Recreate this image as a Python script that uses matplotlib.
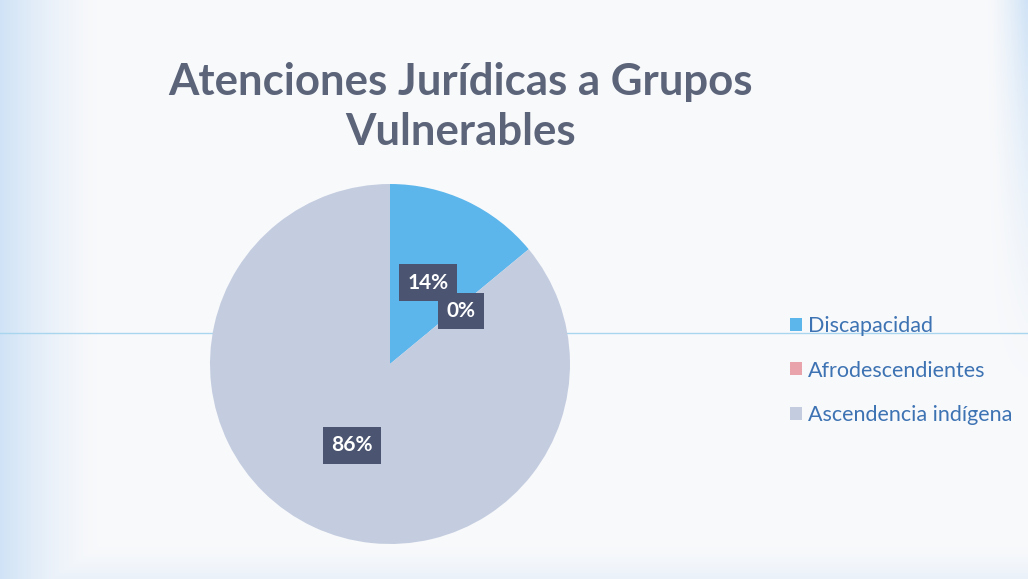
import numpy as np
import matplotlib
matplotlib.use("Agg")
import matplotlib.pyplot as plt
from matplotlib.patches import Patch

title = "Atenciones Jurídicas a Grupos\nVulnerables"
categories = ["Discapacidad", "Afrodescendientes", "Ascendencia indígena"]
values = [14, 0, 86]
colors = ["#5cb6ec", "#e9a3ab", "#c4cde0"]

plt.rcParams['font.family'] = ['Lato', 'DejaVu Sans']

fig = plt.figure(figsize=(10.28, 5.79), dpi=100)
fig.patch.set_facecolor("#f6f8fb")

# subtle scanned background: bluish tint mostly along the left edge and corners
bg = fig.add_axes([0, 0, 1, 1], zorder=-10)
xx = np.linspace(0, 1, 300)
yy = np.linspace(0, 1, 200)
X, Y = np.meshgrid(xx, yy)
left = np.clip(1 - X / 0.10, 0, 1)
right = np.clip(1 - (1 - X) / 0.04, 0, 1) * np.clip((Y - 0.3) / 0.7, 0, 1)
bottom = np.clip(1 - Y / 0.06, 0, 1) * 0.5
edge = np.clip(np.maximum(np.maximum(left, right), bottom), 0, 1) ** 1.5
img = np.ones((200, 300, 3))
base = np.array([0.975, 0.978, 0.985])
tint = np.array([0.78, 0.87, 0.96])
for c in range(3):
    img[..., c] = base[c] * (1 - edge * 0.8) + tint[c] * edge * 0.8
bg.imshow(img, extent=[0, 1, 0, 1], aspect='auto', origin='lower')
bg.axhline(1 - 333 / 579, color="#a9d6ee", lw=1)
bg.set_xlim(0, 1)
bg.set_ylim(0, 1)
bg.set_axis_off()

fig.text(0.448, 0.815, title, ha='center', va='center', fontsize=31.5,
         fontweight='bold', color='#5b6479', linespacing=1.3)

ax = fig.add_axes([210 / 1028, (579 - 544) / 579, 360 / 1028, 360 / 579])
wedges, texts, autotexts = ax.pie(values, colors=colors, startangle=90, counterclock=False,
                                  radius=1, autopct='%1.0f%%', pctdistance=0.5,
                                  wedgeprops=dict(linewidth=0))
for t in autotexts:
    t.set_color('white')
    t.set_fontsize(15)
    t.set_fontweight('bold')
    t.set_bbox(dict(boxstyle='square,pad=0.4', fc='#4b5571', ec='none'))
# shift the 0% label to avoid overlap
x0, y0 = autotexts[1].get_position()
autotexts[1].set_position((x0 + 0.01, y0 - 0.025))
ax.set_xlim(-1, 1)
ax.set_ylim(-1, 1)
ax.set_aspect('equal')
ax.set_axis_off()

handles = [Patch(facecolor=c, edgecolor='none') for c in colors]
leg = fig.legend(handles, categories, loc='center left', bbox_to_anchor=(0.75, 0.36),
                 frameon=False, fontsize=15.5, labelspacing=1.15, handlelength=0.55,
                 handleheight=0.55, handletextpad=0.25)
for t in leg.get_texts():
    t.set_color('#3d73b3')

fig.savefig("out.png", dpi=100, facecolor=fig.get_facecolor())
